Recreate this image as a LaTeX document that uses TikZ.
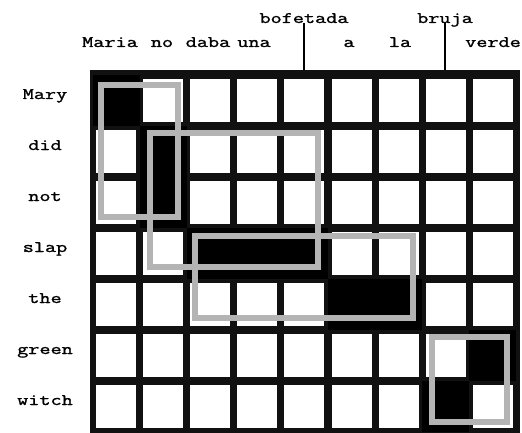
\documentclass[tikz,border=0pt]{standalone}
\usepackage{graphicx}
\usepackage{fontspec}
\newfontfamily\lblfamily[FakeBold=1.2]{Latin Modern Mono}
\newcommand{\stretchtxt}[1]{\scalebox{1.35}[1]{#1}}
\definecolor{gridbg}{HTML}{111111}
\definecolor{phrase}{HTML}{B4B4B4}
\tikzset{
  lbl/.style={font=\fontsize{16}{16}\selectfont\lblfamily, inner sep=0pt, anchor=base, text=black},
  conn/.style={draw=black, line width=1.5pt},
  cellw/.style={fill=white},
  cellb/.style={fill=black},
  phrasebox/.style={draw=phrase, line width=5.5pt}
}
\begin{document}
\begin{tikzpicture}[x=1pt,y=-1pt]
\useasboundingbox (0,0) rectangle (522,433);
% grid background
\node[fill=gridbg, minimum width=430pt, minimum height=363pt, anchor=north west, inner sep=0pt, outer sep=0pt] (grid) at (90,70) {};
% white cells
\foreach \r in {0,...,6}{
  \foreach \c in {0,...,8}{
    \fill[cellw] ({96+47.1*\c},{79+51*\r}) rectangle ++(40,43);
  }
}
% aligned (black) cells
\foreach \r/\c in {0/0,1/1,2/1,3/2,3/3,3/4,4/5,4/6,5/8,6/7}{
  \fill[cellb] ({96+47.1*\c-3.5},{79+51*\r-4}) rectangle ++(47,51);
}
% phrase boxes
\draw[phrasebox] (101,85) rectangle (178,217);
\draw[phrasebox] (150,133) rectangle (318,267);
\draw[phrasebox] (195,236) rectangle (413,318);
\draw[phrasebox] (432,337) rectangle (507,422);
% column labels
\node[lbl] (maria) at (110,47) {\stretchtxt{Maria}};
\node[lbl] (no) at (162,47) {\stretchtxt{no}};
\node[lbl] (daba) at (208,47) {\stretchtxt{daba}};
\node[lbl] (una) at (254,47) {\stretchtxt{una}};
\node[lbl] (bof) at (304,23) {\stretchtxt{bofetada}};
\node[lbl] (a) at (349,47) {\stretchtxt{a}};
\node[lbl] (la) at (400,47) {\stretchtxt{la}};
\node[lbl] (bru) at (445,23) {\stretchtxt{bruja}};
\node[lbl] (verde) at (493,47) {\stretchtxt{verde}};
\draw[conn] (bof.base) -- (bof.base |- grid.north);
\draw[conn] (bru.base) -- (bru.base |- grid.north);
% row labels
\node[lbl] (mary) at (45,99) {\stretchtxt{Mary}};
\node[lbl] (did) at (45,150) {\stretchtxt{did}};
\node[lbl] (not) at (45,201) {\stretchtxt{not}};
\node[lbl] (slap) at (45,252) {\stretchtxt{slap}};
\node[lbl] (the) at (45,303) {\stretchtxt{the}};
\node[lbl] (green) at (45,354) {\stretchtxt{green}};
\node[lbl] (witch) at (45,405) {\stretchtxt{witch}};
\end{tikzpicture}
\end{document}
